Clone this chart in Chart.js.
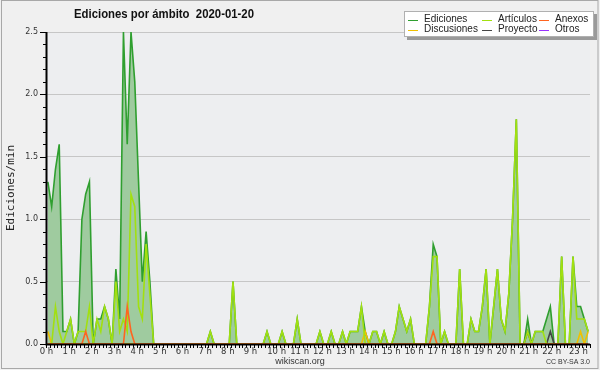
<!DOCTYPE html>
<html>
<head>
<meta charset="utf-8">
<script src="https://cdn.jsdelivr.net/npm/chart.js@4.4.1/dist/chart.umd.min.js"></script>
<style>
  html, body { margin: 0; padding: 0; background: #f0f0f0; }
  #chart { display: block; }
</style>
</head>
<body>
<canvas id="chart" width="600" height="370"></canvas>
<script>
// Ediciones por minuto, un valor cada 10 minutos (144 por día)
const horas = ['0 h', '1 h', '2 h', '3 h', '4 h', '5 h', '6 h', '7 h', '8 h', '9 h', '10 h', '11 h',
  '12 h', '13 h', '14 h', '15 h', '16 h', '17 h', '18 h', '19 h', '20 h', '21 h', '22 h', '23 h'];

const ediciones = [
  1.3, 1.1, 1.4, 1.6, 0.1, 0.1, 0.2, 0, 0.1, 1.0, 1.2, 1.3,
  0, 0.2, 0.2, 0.3, 0.2, 0, 0.6, 0.2, 2.5, 1.6, 2.5, 2.1,
  1.3, 0.5, 0.9, 0.5, 0, 0, 0, 0, 0, 0, 0, 0,
  0, 0, 0, 0, 0, 0, 0, 0.1, 0, 0, 0, 0,
  0, 0.5, 0, 0, 0, 0, 0, 0, 0, 0, 0.1, 0,
  0, 0, 0.1, 0, 0, 0, 0.2, 0, 0, 0, 0, 0,
  0.1, 0, 0, 0.1, 0, 0, 0.1, 0, 0.1, 0.1, 0.1, 0.3,
  0.1, 0, 0.1, 0.1, 0, 0.1, 0, 0, 0.1, 0.3, 0.2, 0.1,
  0.2, 0, 0, 0, 0, 0.3, 0.8, 0.7, 0, 0.1, 0, 0,
  0, 0.6, 0, 0, 0.2, 0.1, 0.1, 0.3, 0.6, 0, 0.3, 0.6,
  0.2, 0.1, 0.4, 1.0, 1.8, 0, 0, 0.2, 0, 0.1, 0.1, 0.1,
  0.2, 0.3, 0, 0, 0.7, 0, 0, 0.7, 0.3, 0.3, 0.2, 0.1
];

const articulos = [
  0, 0, 0.3, 0.1, 0, 0.1, 0.2, 0, 0.1, 0.1, 0.1, 0.3,
  0, 0.2, 0.1, 0.3, 0.2, 0, 0.5, 0.1, 0.2, 0.1, 1.2, 1.1,
  0.3, 0.2, 0.8, 0.4, 0, 0, 0, 0, 0, 0, 0, 0,
  0, 0, 0, 0, 0, 0, 0, 0.1, 0, 0, 0, 0,
  0, 0.5, 0, 0, 0, 0, 0, 0, 0, 0, 0.1, 0,
  0, 0, 0.1, 0, 0, 0, 0.2, 0, 0, 0, 0, 0,
  0.1, 0, 0, 0.1, 0, 0, 0.1, 0, 0.1, 0.1, 0.1, 0.3,
  0, 0, 0.1, 0.1, 0, 0.1, 0, 0, 0.1, 0.3, 0.2, 0.1,
  0.2, 0, 0, 0, 0, 0.3, 0.7, 0.7, 0, 0.1, 0, 0,
  0, 0.6, 0, 0, 0.2, 0.1, 0.1, 0.3, 0.6, 0, 0.3, 0.6,
  0.2, 0.1, 0.4, 1.0, 1.8, 0, 0, 0.1, 0, 0.1, 0.1, 0.1,
  0, 0, 0, 0, 0.7, 0, 0, 0.7, 0.2, 0.2, 0.2, 0.1
];

const anexos = [
  0, 0, 0, 0, 0, 0, 0, 0, 0, 0, 0.1, 0,
  0, 0, 0, 0, 0, 0, 0, 0, 0, 0.3, 0.1, 0,
  0, 0, 0, 0, 0, 0, 0, 0, 0, 0, 0, 0,
  0, 0, 0, 0, 0, 0, 0, 0, 0, 0, 0, 0,
  0, 0, 0, 0, 0, 0, 0, 0, 0, 0, 0, 0,
  0, 0, 0, 0, 0, 0, 0, 0, 0, 0, 0, 0,
  0, 0, 0, 0, 0, 0, 0, 0, 0, 0, 0, 0,
  0, 0, 0, 0, 0, 0, 0, 0, 0, 0, 0, 0,
  0, 0, 0, 0, 0, 0, 0.1, 0, 0, 0, 0, 0,
  0, 0, 0, 0, 0, 0, 0, 0, 0, 0, 0, 0,
  0, 0, 0, 0, 0, 0, 0, 0, 0, 0, 0, 0,
  0, 0, 0, 0, 0, 0, 0, 0, 0, 0, 0, 0
];

const discusiones = [
  0.1, 0, 0, 0, 0, 0, 0, 0, 0, 0, 0, 0,
  0, 0, 0, 0, 0, 0, 0, 0, 0, 0, 0, 0,
  0, 0, 0, 0, 0, 0, 0, 0, 0, 0, 0, 0,
  0, 0, 0, 0, 0, 0, 0, 0, 0, 0, 0, 0,
  0, 0, 0, 0, 0, 0, 0, 0, 0, 0, 0, 0,
  0, 0, 0, 0, 0, 0, 0, 0, 0, 0, 0, 0,
  0, 0, 0, 0, 0, 0, 0, 0, 0, 0, 0, 0,
  0.1, 0, 0, 0, 0, 0, 0, 0, 0, 0, 0, 0,
  0, 0, 0, 0, 0, 0, 0, 0, 0, 0, 0, 0,
  0, 0, 0, 0, 0, 0, 0, 0, 0, 0, 0, 0,
  0, 0, 0, 0, 0, 0, 0, 0, 0, 0, 0, 0,
  0, 0, 0, 0, 0, 0, 0, 0, 0, 0.1, 0, 0.1
];

const proyecto = [
  0, 0, 0, 0, 0, 0, 0, 0, 0, 0, 0, 0,
  0, 0, 0, 0, 0, 0, 0, 0, 0, 0, 0, 0,
  0, 0, 0, 0, 0, 0, 0, 0, 0, 0, 0, 0,
  0, 0, 0, 0, 0, 0, 0, 0, 0, 0, 0, 0,
  0, 0, 0, 0, 0, 0, 0, 0, 0, 0, 0, 0,
  0, 0, 0, 0, 0, 0, 0, 0, 0, 0, 0, 0,
  0, 0, 0, 0, 0, 0, 0, 0, 0, 0, 0, 0,
  0, 0, 0, 0, 0, 0, 0, 0, 0, 0, 0, 0,
  0, 0, 0, 0, 0, 0, 0, 0, 0, 0, 0, 0,
  0, 0, 0, 0, 0, 0, 0, 0, 0, 0, 0, 0,
  0, 0, 0, 0, 0, 0, 0, 0.1, 0, 0, 0, 0,
  0, 0.1, 0, 0, 0, 0, 0, 0, 0, 0, 0, 0
];

const otros = [
  0, 0, 0, 0, 0, 0, 0, 0, 0, 0, 0, 0,
  0, 0, 0, 0, 0, 0, 0, 0, 0, 0, 0, 0,
  0, 0, 0, 0, 0, 0, 0, 0, 0, 0, 0, 0,
  0, 0, 0, 0, 0, 0, 0, 0, 0, 0, 0, 0,
  0, 0, 0, 0, 0, 0, 0, 0, 0, 0, 0, 0,
  0, 0, 0, 0, 0, 0, 0, 0, 0, 0, 0, 0,
  0, 0, 0, 0, 0, 0, 0, 0, 0, 0, 0, 0,
  0, 0, 0, 0, 0, 0, 0, 0, 0, 0, 0, 0,
  0, 0, 0, 0, 0, 0, 0, 0, 0, 0, 0, 0,
  0, 0, 0, 0, 0, 0, 0, 0, 0, 0, 0, 0,
  0, 0, 0, 0, 0, 0, 0, 0, 0, 0, 0, 0,
  0, 0, 0, 0, 0, 0, 0, 0, 0, 0, 0, 0
];

// cada punto va en el centro de su tramo de 10 minutos
const puntos = (serie) => serie.map((v, i) => ({ x: i * 10 + 5, y: v }));

const esMedio = (v) => Math.abs(v * 2 - Math.round(v * 2)) < 1e-6;

function serie(label, data, color, order, extra) {
  return Object.assign({
    label: label,
    data: puntos(data),
    borderColor: color,
    borderWidth: 1.6,
    pointRadius: 0,
    tension: 0,
    fill: false,
    order: order
  }, extra || {});
}

// Fondo del lienzo y del área del gráfico
const fondo = {
  id: 'fondo',
  beforeDraw(chart) {
    const { ctx, chartArea: a } = chart;
    ctx.save();
    ctx.fillStyle = '#f0f0f0';
    ctx.fillRect(0, 0, chart.width, chart.height);
    ctx.fillStyle = '#edeef0';
    ctx.fillRect(a.left, a.top, a.right - a.left, a.bottom - a.top);
    ctx.restore();
  }
};

// Ejes negros, marcas y rótulos de las horas (las etiquetas de dos cifras van algo corridas)
const ejes = {
  id: 'ejes',
  afterDatasetsDraw(chart) {
    const { ctx, chartArea: a, scales } = chart;
    ctx.save();
    ctx.strokeStyle = '#000';
    ctx.lineWidth = 1;
    ctx.beginPath();
    scales.y.ticks.forEach(t => {
      const py = Math.round(scales.y.getPixelForValue(t.value)) + 0.5;
      const len = esMedio(t.value) ? 6 : 3;
      ctx.moveTo(a.left - len, py);
      ctx.lineTo(a.left, py);
    });
    scales.x.ticks.forEach(t => {
      const px = Math.round(scales.x.getPixelForValue(t.value)) + 0.5;
      ctx.moveTo(px, a.bottom);
      ctx.lineTo(px, a.bottom + 4);
    });
    ctx.stroke();
    ctx.lineWidth = 2;
    ctx.beginPath();
    ctx.moveTo(a.left + 0.5, a.top);
    ctx.lineTo(a.left + 0.5, a.bottom + 0.5);
    ctx.lineTo(a.right, a.bottom + 0.5);
    ctx.stroke();

    ctx.fillStyle = '#333';
    ctx.font = '8.5px "DejaVu Sans", sans-serif';
    ctx.textAlign = 'center';
    ctx.textBaseline = 'top';
    horas.forEach((h, k) => {
      const px = scales.x.getPixelForValue(k * 60);
      const corr = k < 10 ? 0.5 : (k < 23 ? 4 + (k - 10) * 0.25 : 11);
      ctx.fillText(h, px + corr, a.bottom + 4);
    });
    ctx.restore();
  }
};

// Título, leyenda, rótulo del eje y pie
const textos = {
  id: 'textos',
  afterDraw(chart) {
    const { ctx, chartArea: a } = chart;
    ctx.save();

    ctx.strokeStyle = '#a8a8a8';
    ctx.lineWidth = 1;
    ctx.strokeRect(1.5, 0.5, 596.5, 368);

    ctx.fillStyle = '#111';
    ctx.font = 'bold 12.5px "Liberation Sans", sans-serif';
    ctx.textAlign = 'center';
    ctx.textBaseline = 'alphabetic';
    ctx.fillText('Ediciones por ámbito  2020-01-20', 164, 18, 180);

    ctx.save();
    ctx.translate(11, (a.top + a.bottom) / 2);
    ctx.rotate(-Math.PI / 2);
    ctx.font = '11px "DejaVu Sans Mono", monospace';
    ctx.fillStyle = '#222';
    ctx.textBaseline = 'middle';
    ctx.fillText('Ediciones/min', 0, 0);
    ctx.restore();

    ctx.font = '9px "Liberation Sans", sans-serif';
    ctx.fillStyle = '#333';
    ctx.textBaseline = 'alphabetic';
    ctx.fillText('wikiscan.org', 300, 364);
    ctx.font = '7px "Liberation Sans", sans-serif';
    ctx.textAlign = 'right';
    ctx.fillText('CC BY-SA 3.0', 590, 364);

    // caja de leyenda con sombra
    ctx.fillStyle = '#9a9a9a';
    ctx.fillRect(407, 14, 190, 26);
    ctx.fillStyle = '#ffffff';
    ctx.fillRect(404, 11, 190, 26);
    ctx.strokeStyle = '#b0b0b0';
    ctx.strokeRect(404.5, 11.5, 189, 25);

    const colX = [408, 482, 539];
    const filaY = [19.5, 29.5];
    ctx.font = '10px "Liberation Sans", sans-serif';
    ctx.textAlign = 'left';
    ctx.textBaseline = 'middle';
    chart.data.datasets.forEach((ds, k) => {
      const x0 = colX[Math.floor(k / 2)];
      const y0 = filaY[k % 2];
      ctx.strokeStyle = ds.borderColor;
      ctx.lineWidth = 1;
      ctx.beginPath();
      ctx.moveTo(x0, Math.round(y0) + 0.5);
      ctx.lineTo(x0 + 10, Math.round(y0) + 0.5);
      ctx.stroke();
      ctx.fillStyle = '#222';
      ctx.fillText(ds.label, x0 + 16, y0);
    });
    ctx.restore();
  }
};

new Chart(document.getElementById('chart'), {
  type: 'line',
  data: {
    datasets: [
      serie('Ediciones', ediciones, '#2f9f2f', 6, { fill: 'origin', backgroundColor: '#9fcb9f' }),
      serie('Discusiones', discusiones, '#f0c000', 3),
      serie('Artículos', articulos, '#a2e010', 2),
      serie('Proyecto', proyecto, '#454545', 4),
      serie('Anexos', anexos, '#ff6420', 1),
      serie('Otros', otros, '#9933ff', 5)
    ]
  },
  options: {
    responsive: false,
    animation: false,
    layout: { padding: { left: 0, right: 10, top: 32, bottom: 0 } },
    plugins: {
      legend: { display: false },
      title: { display: false },
      tooltip: { enabled: false }
    },
    scales: {
      x: {
        type: 'linear',
        min: 0,
        max: 1440,
        afterBuildTicks: (scale) => {
          const marcas = [];
          for (let m = 0; m <= 1440; m += 10) marcas.push({ value: m });
          scale.ticks = marcas;
        },
        afterFit: (scale) => { scale.height = 26; },
        grid: { display: false, drawTicks: false },
        border: { display: false },
        ticks: { display: false, autoSkip: false }
      },
      y: {
        min: 0,
        max: 2.5,
        afterFit: (scale) => { scale.width = 46; },
        grid: {
          drawTicks: false,
          color: (c) => (c.tick && c.tick.value > 0 && esMedio(c.tick.value)) ? '#c6c6c6' : 'rgba(0,0,0,0)'
        },
        border: { display: false },
        ticks: {
          stepSize: 0.1,
          autoSkip: false,
          padding: 8,
          color: '#333',
          font: { family: 'DejaVu Sans', size: 8 },
          callback: (v) => esMedio(v) ? v.toFixed(1) : ''
        }
      }
    }
  },
  plugins: [fondo, ejes, textos]
});
</script>
</body>
</html>
